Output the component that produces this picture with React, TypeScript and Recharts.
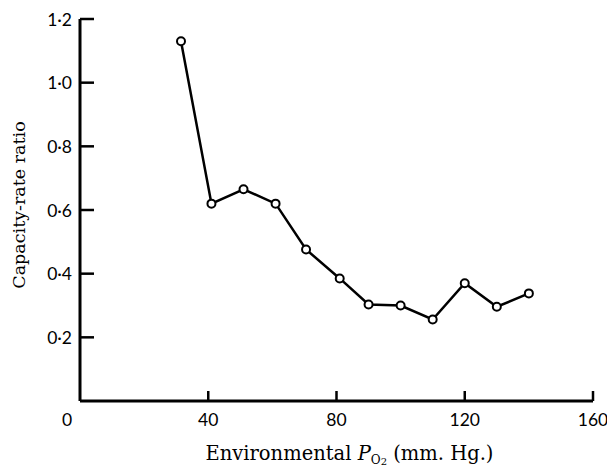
import React from 'react';
import { LineChart, Line, XAxis, YAxis } from 'recharts';

const po2 = [31.5, 41, 51, 61, 70.5, 81, 90, 100, 110, 120, 130, 140];
const ratio = [1.13, 0.62, 0.665, 0.62, 0.476, 0.385, 0.303, 0.3, 0.256, 0.37, 0.296, 0.338];
const xTicks = [0, 40, 80, 120, 160];
const yTicks = [0.2, 0.4, 0.6, 0.8, 1.0, 1.2];
const xTitle = 'Environmental ';
const yTitle = 'Capacity-rate ratio';

const data = po2.map((x, i) => ({ x, y: ratio[i] }));

const NUM_FONT = 'Lato, "Open Sans", sans-serif';
const SERIF = '"DejaVu Serif", "Liberation Serif", serif';

const fmt = (v: number) => v.toFixed(1).replace('.', '\u00B7');

const YTick = (props: any) => {
  const { x, y, payload } = props;
  return (
    <g>
      <line x1={x} x2={x + 14} y1={y} y2={y} stroke="#000" strokeWidth={2.5} />
      <text x={x - 8} y={y} textAnchor="end" dominantBaseline="central" fontFamily={NUM_FONT} fontSize={17.5} fill="#000">
        {fmt(payload.value)}
      </text>
    </g>
  );
};

const XTick = (props: any) => {
  const { x, y, payload } = props;
  const v = payload.value;
  return (
    <g>
      {v !== 0 && <line x1={x} x2={x} y1={y} y2={y - 10} stroke="#000" strokeWidth={2.5} />}
      <text x={v === 0 ? x - 13 : x} y={y + 18} textAnchor="middle" dominantBaseline="central" fontFamily={NUM_FONT} fontSize={17.5} fill="#000">
        {String(v)}
      </text>
    </g>
  );
};

const XTitle = (props: any) => {
  const vb = props.viewBox || { x: 80, y: 401, width: 513, height: 66 };
  const cx = vb.x + vb.width / 2 + 13;
  return (
    <text x={cx} y={vb.y + 59} textAnchor="middle" fontFamily={SERIF} fontSize={19.5} fill="#000">
      {xTitle}
      <tspan fontStyle="italic">P</tspan>
      <tspan fontSize={12} dy={4}>O</tspan>
      <tspan fontSize={10} dy={1}>2</tspan>
      <tspan dy={-5}> (mm. Hg.)</tspan>
    </text>
  );
};

const YTitle = (props: any) => {
  const vb = props.viewBox || { x: 0, y: 19, width: 80, height: 382 };
  const cy = vb.y + vb.height / 2 - 5;
  const cx = 19;
  return (
    <text x={cx} y={cy} textAnchor="middle" dominantBaseline="central" transform={`rotate(-90 ${cx} ${cy})`} fontFamily={SERIF} fontSize={17.5} fill="#000">
      {yTitle}
    </text>
  );
};

export default function App() {
  return (
    <div style={{ position: 'absolute', left: 0, top: 0, background: '#fff' }}>
      <LineChart width={607} height={467} data={data} margin={{ top: 19, right: 14, bottom: 0, left: 0 }}>
        <XAxis
          dataKey="x"
          type="number"
          domain={[0, 160]}
          ticks={xTicks}
          height={66}
          tickSize={0}
          tickMargin={0}
          tick={<XTick />}
          axisLine={{ stroke: '#000', strokeWidth: 3 }}
          tickLine={false}
          label={<XTitle />}
          interval={0}
        />
        <YAxis
          dataKey="y"
          type="number"
          domain={[0, 1.2]}
          ticks={yTicks}
          width={80}
          tickSize={0}
          tickMargin={0}
          tick={<YTick />}
          axisLine={{ stroke: '#000', strokeWidth: 3 }}
          tickLine={false}
          label={<YTitle />}
          interval={0}
        />
        <Line
          dataKey="y"
          stroke="#000"
          strokeWidth={2.5}
          dot={{ r: 4, stroke: '#000', strokeWidth: 2, fill: '#fff' }}
          isAnimationActive={false}
        />
      </LineChart>
    </div>
  );
}
